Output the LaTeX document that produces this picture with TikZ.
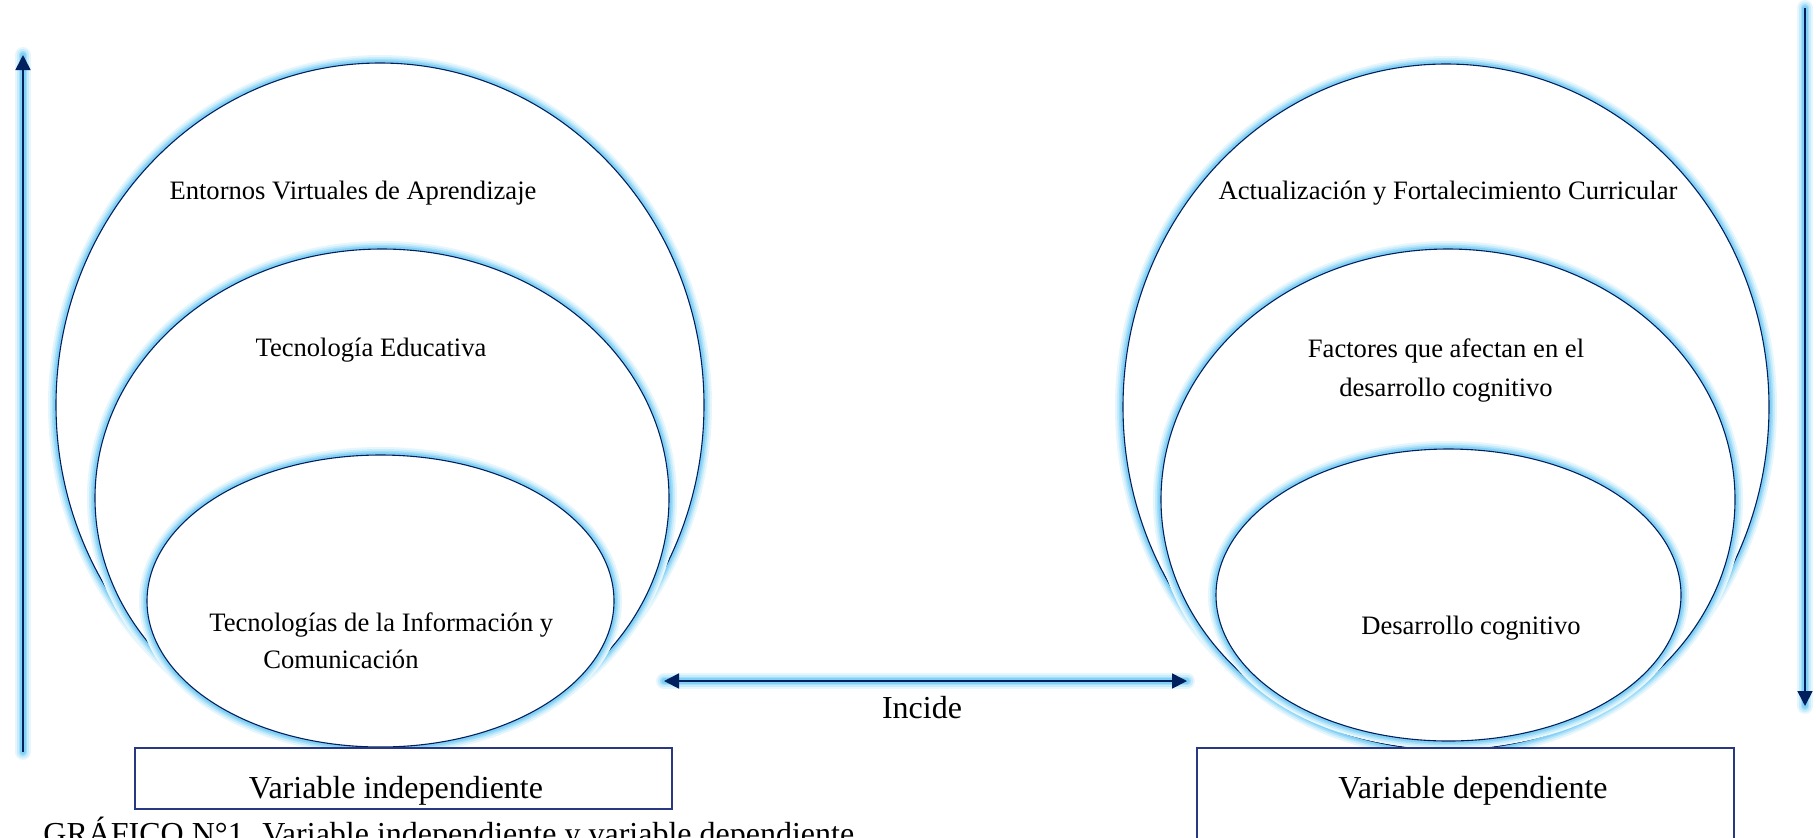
\documentclass[tikz,border=0pt]{standalone}
\usepackage{fontspec}
\setmainfont{Liberation Serif}
\usetikzlibrary{arrows.meta}
\definecolor{navy}{RGB}{0,32,96}
\definecolor{glowA}{RGB}{230,246,253}
\definecolor{glowB}{RGB}{200,236,251}
\definecolor{glowC}{RGB}{165,222,248}
\definecolor{glowD}{RGB}{130,208,244}
\definecolor{boxline}{RGB}{40,56,130}
\tikzset{
  glowing/.style={
    preaction={draw=glowA,line width=8pt,-,line cap=round},
    preaction={draw=glowB,line width=6pt,-,line cap=round},
    preaction={draw=glowC,line width=4.2pt,-,line cap=round},
    preaction={draw=glowD,line width=2.6pt,-,line cap=round}},
  ring/.style={glowing,fill=white,draw=navy,line width=0.55pt},
  axisarrow/.style={glowing,draw=navy,line width=0.8pt},
  tip/.tip={Triangle[length=7.5pt,width=7.5pt]},
  lbl/.style={font=\fontsize{13.3}{19.5}\selectfont,align=center,inner sep=0pt,text=black},
  bigtext/.style={font=\fontsize{16}{19}\selectfont,inner sep=0pt,text=black},
  varbox/.style={draw=boxline,line width=0.6pt,fill=white,inner sep=0pt}
}
\begin{document}
\begin{tikzpicture}[x=0.5pt,y=-0.5pt]
\useasboundingbox (0,0) rectangle (1816,837);
\clip (0,0) rectangle (1816,837);
% left group
\draw[ring] (380,405) ellipse [x radius=162pt,y radius=171pt];
\draw[ring] (382,498) ellipse [x radius=143.5pt,y radius=124.5pt];
\draw[ring] (380.5,601) ellipse [x radius=116.75pt,y radius=73pt];
% right group
\draw[ring] (1446,407) ellipse [x radius=161.5pt,y radius=171.5pt];
\draw[ring] (1448,499.5) ellipse [x radius=143.5pt,y radius=125.25pt];
\draw[ring] (1448.5,595) ellipse [x radius=116.25pt,y radius=73pt];
% labels
\node[lbl] (evea) at (353,193) {Entornos Virtuales de Aprendizaje};
\node[lbl] (te) at (371,350) {Tecnología Educativa};
\node[lbl,anchor=north west] (tic1) at (209,612) {Tecnologías de la Información y};
\node[lbl,anchor=north west] (tic2) at (263,650) {Comunicación};
\node[lbl] (afc) at (1448,193) {Actualización y Fortalecimiento Curricular};
\node[lbl] (fac) at (1446,370) {Factores que afectan en el\\desarrollo cognitivo};
\node[lbl] (dc) at (1471,628) {Desarrollo cognitivo};
% boxes
\node[varbox,minimum width=268.5pt,minimum height=30.5pt] (vi) at (403.5,778.5) {};
\node[bigtext] (vit) at (396,791) {Variable independiente};
\node[varbox,minimum width=268.5pt,minimum height=60pt] (vd) at (1465.5,808) {};
\node[bigtext] (vdt) at (1473,791) {Variable dependiente};
% arrows
\coordinate (la0) at (23,752);
\coordinate (la1) at (23,55);
\coordinate (ra0) at (1805,8);
\coordinate (ra1) at (1805,706);
\coordinate (ha0) at (664,681);
\coordinate (ha1) at (1187,681);
\draw[axisarrow,-tip] (la0) -- (la1);
\draw[axisarrow,-tip] (ra0) -- (ra1);
\draw[axisarrow,tip-tip] (ha0) -- (ha1);
\node[bigtext] (inc) at (922,708) {Incide};
% caption
\node[bigtext,anchor=base west] (cap) at (43,844) {GRÁFICO N°1. Variable independiente y variable dependiente};
\end{tikzpicture}
\end{document}
